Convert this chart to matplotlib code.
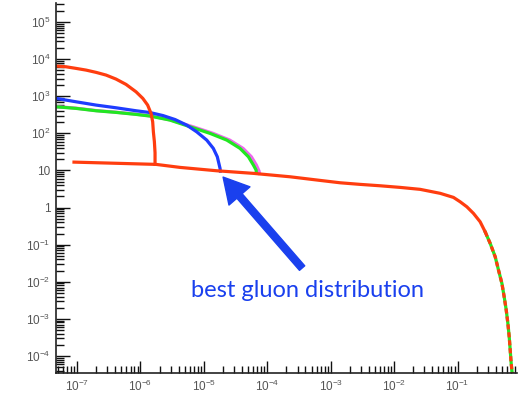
#Import packages
import math
import matplotlib
matplotlib.use('Agg')
import matplotlib.pyplot as plt
from matplotlib.ticker import LogLocator, FuncFormatter, NullFormatter

#Curve data (x, value)
red_hi_x = [4.67e-8, 6.71e-8, 9.64e-8, 1.39e-7, 2.00e-7, 2.87e-7, 4.12e-7, 5.93e-7, 8.53e-7,
	1.09e-6, 1.30e-6, 1.47e-6, 1.56e-6, 1.60e-6, 1.66e-6, 1.70e-6, 1.70e-6]
red_hi_y = [6520, 6240, 5650, 5080, 4410, 3730, 2910, 2090, 1320,
	878, 579, 346, 205, 110, 59.4, 30.0, 14.6]

red_lo_x = [8.97e-8, 1.76e-6, 4.22e-6, 1.60e-5, 6.04e-5, 2.29e-4, 6.81e-4, 1.41e-3, 2.91e-3,
	6.01e-3, 1.24e-2, 2.57e-2, 5.32e-2, 8.62e-2, 0.110, 0.140, 0.178, 0.227, 0.272]
red_lo_y = [16.8, 14.6, 12.1, 9.82, 8.36, 6.76, 5.40, 4.66, 4.22,
	3.87, 3.50, 3.10, 2.42, 1.88, 1.43, 1.05, 0.698, 0.414, 0.223]

tail_x = [0.272, 0.327, 0.392, 0.442, 0.500, 0.543, 0.585, 0.621, 0.652, 0.676, 0.700, 0.727]
tail_y = [0.223, 0.108, 0.0472, 0.0207, 9.05e-3, 3.94e-3, 1.73e-3, 7.57e-4, 3.30e-4, 1.44e-4, 6.31e-5, 3.46e-5]

blue_x = [4.67e-8, 9.64e-8, 2.00e-7, 4.12e-7, 8.53e-7, 1.42e-6, 2.27e-6, 3.52e-6, 5.37e-6, 7.72e-6,
	1.11e-5, 1.41e-5, 1.63e-5, 1.80e-5, 1.82e-5]
blue_y = [878, 711, 579, 490, 407, 364, 302, 236, 167, 110,
	65.9, 39.4, 23.4, 11.4, 9.6]

green_x = [4.67e-8, 9.64e-8, 2.00e-7, 4.12e-7, 8.53e-7, 1.42e-6, 2.93e-6, 6.05e-6, 1.25e-5,
	2.30e-5, 3.72e-5, 5.04e-5, 6.04e-5, 6.66e-5, 6.75e-5]
green_y = [521, 472, 407, 368, 325, 293, 228, 151, 100,
	65.9, 39.4, 23.4, 14.0, 10.3, 8.5]

pink_x = [4.67e-8, 9.64e-8, 2.00e-7, 4.12e-7, 8.53e-7, 1.42e-6, 2.93e-6, 6.76e-6, 1.40e-5,
	2.56e-5, 4.15e-5, 5.61e-5, 6.73e-5, 7.43e-5, 7.55e-5]
pink_y = [530, 478, 412, 372, 329, 296, 231, 151, 100,
	65.9, 39.4, 23.4, 14.0, 9.6, 8.3]

y_ticks = [1e-4, 1e-3, 1e-2, 1e-1, 1, 10, 1e2, 1e3, 1e4, 1e5]
x_ticks = [1e-7, 1e-6, 1e-5, 1e-4, 1e-3, 1e-2, 1e-1]

label = 'best gluon distribution'

#Colours
c_red = '#ff3d0f'
c_blue = '#1e3cff'
c_green = '#22e622'
c_pink = '#ee66ee'
c_text = '#1a40ee'

def ylab(v, pos):
	if v == 1:
		return '1'
	if v == 10:
		return '10'
	return r'$10^{%d}$' % int(round(math.log10(v)))

def xlab(v, pos):
	return r'$10^{%d}$' % int(round(math.log10(v)))

def main():
	plt.rcParams['font.family'] = ['Liberation Sans', 'DejaVu Sans']
	plt.rcParams['mathtext.default'] = 'regular'

	fig = plt.figure(figsize=(5.24, 3.96), dpi=100)
	ax = fig.add_axes([0.107, 0.058, 0.880, 0.934])

	lw = 2.3
	ax.plot(pink_x, pink_y, color=c_pink, lw=lw)
	ax.plot(green_x, green_y, color=c_green, lw=lw)
	ax.plot(tail_x, tail_y, color=c_green, lw=lw)
	ax.plot(blue_x, blue_y, color=c_blue, lw=lw)
	ax.plot(red_hi_x, red_hi_y, color=c_red, lw=lw)
	ax.plot(red_lo_x, red_lo_y, color=c_red, lw=lw)
	ax.plot(tail_x, tail_y, color=c_red, lw=lw, dashes=(1.6, 0.9))

	ax.set_xscale('log')
	ax.set_yscale('log')
	ax.set_xlim(10**-7.33, 10**-0.06)
	ax.set_ylim(10**-4.46, 10**5.51)

	#Ticks
	ax.xaxis.set_minor_locator(LogLocator(base=10, subs=range(2, 10), numticks=20))
	ax.yaxis.set_minor_locator(LogLocator(base=10, subs=range(2, 10), numticks=20))
	ax.set_xticks(x_ticks)
	ax.set_yticks(y_ticks)
	ax.xaxis.set_major_formatter(FuncFormatter(xlab))
	ax.yaxis.set_major_formatter(FuncFormatter(ylab))
	ax.xaxis.set_minor_formatter(NullFormatter())
	ax.yaxis.set_minor_formatter(NullFormatter())

	ax.tick_params(axis='both', which='major', direction='in', width=1.0, colors='#111111', labelcolor='#555555', labelsize=8.5)
	ax.tick_params(axis='both', which='minor', direction='in', width=1.0, colors='#111111')
	ax.tick_params(axis='y', which='major', length=10, pad=4)
	ax.tick_params(axis='y', which='minor', length=5.5)
	ax.tick_params(axis='x', which='major', length=9, pad=4)
	ax.tick_params(axis='x', which='minor', length=5)

	for s in ['top', 'right']:
		ax.spines[s].set_visible(False)
	for s in ['left', 'bottom']:
		ax.spines[s].set_linewidth(1.2)
		ax.spines[s].set_color('#222222')

	#Arrow and label
	ax.annotate('', xy=(2.01e-5, 6.64), xytext=(3.54e-4, 0.0234),
		arrowprops=dict(arrowstyle='simple,head_length=0.9,head_width=1.0,tail_width=0.25',
			color=c_text, shrinkA=0, shrinkB=0, mutation_scale=20))
	ax.text(4.25e-4, 3.87e-3, label, color=c_text, fontsize=17,
		family=['Lato', 'DejaVu Sans'], ha='center', va='baseline')

	fig.savefig('out.png', dpi=100)

#Execute main script
if __name__ == '__main__':
	main()
